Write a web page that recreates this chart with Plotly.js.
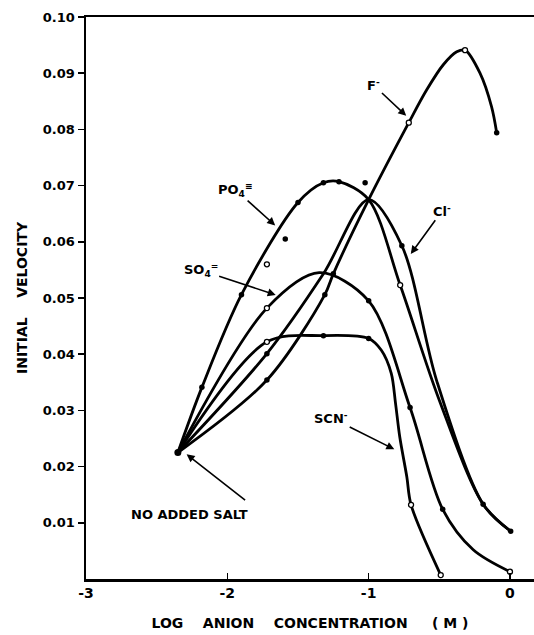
<!DOCTYPE html>
<html>
<head>
<meta charset="utf-8">
<script src="https://cdn.plot.ly/plotly-3.0.1.min.js"></script>
<style>html,body{margin:0;padding:0;background:#fff;}#chart{width:534px;height:635px;}</style>
</head>
<body>
<div id="chart"></div>
<script>
// Log anion concentration (M) vs initial velocity: smooth curves
const fX   = [-2.35, -1.72, -1.31, -1.25, -1.0, -0.716, -0.59, -0.472, -0.377, -0.318, -0.212, -0.13, -0.094];
const fY   = [0.0225, 0.0354, 0.0506, 0.0543, 0.0675, 0.0812, 0.0870, 0.0915, 0.0938, 0.0941, 0.0900, 0.0840, 0.0794];
const clX  = [-2.35, -1.72, -1.32, -1.0, -0.765, -0.52, -0.19, 0.005];
const clY  = [0.0225, 0.0401, 0.0543, 0.0675, 0.0593, 0.0354, 0.0133, 0.0085];
const po4X = [-2.35, -2.18, -1.90, -1.50, -1.32, -1.21, -1.0, -0.777, -0.50, -0.19, 0.005];
const po4Y = [0.0225, 0.0341, 0.0506, 0.0670, 0.0705, 0.0707, 0.0675, 0.0523, 0.0318, 0.0133, 0.0085];
const so4X = [-2.35, -1.72, -1.35, -1.0, -0.707, -0.476, -0.26, 0.0];
const so4Y = [0.0225, 0.0482, 0.0545, 0.0495, 0.0305, 0.0124, 0.0052, 0.0013];
const scnX = [-2.35, -1.72, -1.32, -1.0, -0.91, -0.84, -0.81, -0.78, -0.73, -0.70, -0.49];
const scnY = [0.0225, 0.0422, 0.0433, 0.0428, 0.0407, 0.0366, 0.0313, 0.0253, 0.0182, 0.0132, 0.0007];

// measured points drawn as dots
const filledDotX = [-2.35, -2.18, -1.90, -1.50, -1.32, -1.21, -1.59, -1.025, -1.72, -1.72, -1.31, -1.25, -0.094,
                    -0.765, -0.19, 0.005, -1.0, -0.707, -0.476, -1.32, -1.0];
const filledDotY = [0.0225, 0.0341, 0.0506, 0.0670, 0.0705, 0.0707, 0.0605, 0.0705, 0.0401, 0.0354, 0.0506, 0.0543, 0.0794,
                    0.0593, 0.0133, 0.0085, 0.0495, 0.0305, 0.0124, 0.0433, 0.0428];
const openDotX = [-0.716, -0.318, -1.72, -1.72, -0.777, -0.70, -0.49, 0.0, -1.72];
const openDotY = [0.0812, 0.0941, 0.0560, 0.0422, 0.0523, 0.0132, 0.0007, 0.0013, 0.0482];

const baseX = [-2.35];
const baseY = [0.0225];

const yTicks = [0.01, 0.02, 0.03, 0.04, 0.05, 0.06, 0.07, 0.08, 0.09, 0.10];
const yTickText = ["0.01", "0.02", "0.03", "0.04", "0.05", "0.06", "0.07", "0.08", "0.09", "0.10"];
const xTicks = [-3, -2, -1, 0];
const xTickText = ["-3", "-2", "-1", "0"];

const lineStyle = {color: '#000', width: 2.8, shape: 'spline', smoothing: 0.9};
function curve(x, y) {
  return {x: x, y: y, type: 'scatter', mode: 'lines', line: lineStyle, showlegend: false, hoverinfo: 'skip', cliponaxis: false};
}
const traces = [
  curve(fX, fY), curve(clX, clY), curve(po4X, po4Y), curve(so4X, so4Y), curve(scnX, scnY),
  {x: filledDotX, y: filledDotY, type: 'scatter', mode: 'markers', marker: {color: '#000', size: 5.5}, showlegend: false, cliponaxis: false},
  {x: openDotX, y: openDotY, type: 'scatter', mode: 'markers', marker: {color: '#fff', size: 5, line: {color: '#000', width: 1.3}}, showlegend: false, cliponaxis: false},
  {x: baseX, y: baseY, type: 'scatter', mode: 'markers', marker: {color: '#000', size: 7}, showlegend: false}
];

const fam = 'DejaVu Sans, Liberation Sans, sans-serif';
const font = {family: fam, size: 13, color: '#000', weight: 'bold'};
function label(text, x, y, ax, ay) {
  return {text: text, x: x, y: y, xref: 'x', yref: 'y', ax: ax, ay: ay, showarrow: true,
    arrowhead: 2, arrowsize: 1, arrowwidth: 1.6, arrowcolor: '#000', font: font, standoff: 1};
}
const layout = {
  width: 534, height: 635,
  margin: {l: 86, r: 0, t: 17, b: 56},
  paper_bgcolor: '#fff', plot_bgcolor: '#fff',
  font: font,
  xaxis: {
    range: [-3, 0.17], tickvals: xTicks, ticktext: xTickText,
    showgrid: false, zeroline: false, showline: true, linecolor: '#000', linewidth: 2.5, mirror: true,
    ticks: 'inside', ticklen: 6, tickwidth: 1.5, tickcolor: '#000',
    tickfont: {family: fam, size: 14, color: '#000', weight: 'bold'},
    title: {text: 'LOG    ANION    CONCENTRATION     ( M )', font: {family: fam, size: 14, color: '#000', weight: 'bold'}, standoff: 18}
  },
  yaxis: {
    range: [0, 0.10], tickvals: yTicks, ticktext: yTickText,
    showgrid: false, zeroline: false, showline: true, linecolor: '#000', linewidth: 2.5,
    ticks: 'outside', ticklen: 6, tickwidth: 1.5, tickcolor: '#000',
    tickfont: {family: fam, size: 13, color: '#000', weight: 'bold'},
    title: {text: 'INITIAL    VELOCITY', font: {family: fam, size: 14, color: '#000', weight: 'bold'}, standoff: 12}
  },
  annotations: [
    label('F<sup>-</sup>', -0.729, 0.0823, -33, -31),
    label('Cl<sup>-</sup>', -0.706, 0.0577, 32, -44),
    label('PO<sub>4</sub><sup>≡</sup>', -1.656, 0.0628, -40, -36),
    label('SO<sub>4</sub><sup>=</sup>', -1.651, 0.0505, -76, -25),
    label('SCN<sup>-</sup>', -0.812, 0.0230, -64, -32),
    {text: 'NO ADDED SALT', x: -2.27, y: 0.0115, xref: 'x', yref: 'y', showarrow: false, font: font},
    {text: '', x: -2.288, y: 0.0222, xref: 'x', yref: 'y', ax: 60, ay: 47, showarrow: true,
     arrowhead: 2, arrowsize: 1, arrowwidth: 1.6, arrowcolor: '#000'}
  ]
};
Plotly.newPlot('chart', traces, layout, {displayModeBar: false, staticPlot: true});
</script>
</body>
</html>
